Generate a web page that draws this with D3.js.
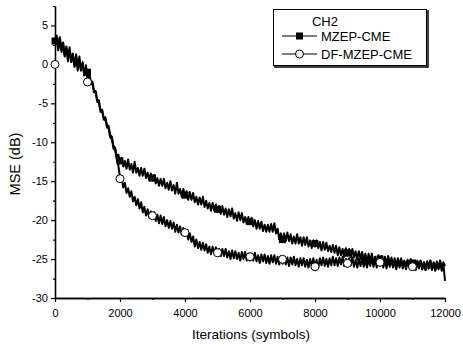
<!DOCTYPE html>
<html>
<head>
<meta charset="utf-8">
<script src="https://cdn.jsdelivr.net/npm/d3@7"></script>
<style>
  body { margin: 0; background: #fff; }
  svg text { font-family: Arial, "Liberation Sans", sans-serif; fill: #000; }
</style>
</head>
<body>
<div id="chart"></div>
<script>
// iterations between two line samples
var step = 50;

// MZEP-CME curve (dB), one value every 50 iterations, 0..12000
var mzepLine = [
  3.1, 3.7, 2.1, 3.5, 1.9, 2.8, 1.0, 2.3, 1.0, 2.2,
  0.3, 1.4, -0.3, 1.3, -0.4, 1.0, -0.7, 0.1, -1.4, -0.1,
  -1.5, -0.9, -2.3, -2.2, -3.4, -3.4, -4.6, -4.6, -5.9, -5.8,
  -6.9, -6.8, -7.8, -7.9, -9.1, -9.3, -10.5, -10.7, -11.8, -11.6,
  -12.6, -12.0, -13.1, -12.4, -13.4, -12.2, -13.5, -12.8, -13.9, -12.5,
  -13.9, -13.3, -14.3, -13.3, -14.3, -13.4, -14.6, -13.9, -14.9, -14.0,
  -14.9, -14.2, -15.3, -14.6, -15.6, -14.7, -15.6, -14.7, -15.9, -15.2,
  -16.1, -15.0, -16.2, -15.5, -16.6, -15.2, -16.6, -16.0, -17.0, -16.0,
  -17.0, -16.3, -17.4, -16.4, -17.4, -16.5, -17.7, -17.0, -18.0, -17.1,
  -18.0, -17.0, -18.3, -17.5, -18.5, -17.8, -18.8, -17.8, -18.8, -18.0,
  -19.0, -18.2, -19.2, -18.2, -19.3, -18.5, -19.6, -18.6, -19.5, -18.5,
  -19.8, -19.1, -20.1, -19.0, -20.0, -19.1, -20.3, -19.6, -20.5, -19.6,
  -20.5, -19.7, -20.8, -20.0, -21.1, -20.1, -21.1, -20.2, -21.4, -20.6,
  -21.5, -20.6, -21.5, -20.5, -21.5, -20.4, -21.7, -21.1, -22.5, -21.7,
  -22.6, -21.7, -22.7, -21.6, -22.7, -21.8, -23.0, -22.1, -23.0, -21.8,
  -23.0, -22.2, -23.3, -22.2, -23.2, -22.2, -23.4, -22.6, -23.6, -22.6,
  -23.4, -22.6, -23.6, -22.8, -23.9, -22.8, -23.8, -22.9, -24.0, -23.3,
  -24.1, -23.2, -24.2, -23.3, -24.5, -23.5, -24.5, -23.7, -24.7, -23.6,
  -24.6, -23.7, -24.8, -23.7, -24.8, -24.0, -25.1, -24.0, -25.0, -24.1,
  -25.2, -24.3, -25.4, -24.3, -25.3, -24.3, -25.4, -24.7, -25.6, -24.5,
  -25.4, -24.6, -25.7, -24.7, -25.7, -24.6, -25.6, -24.8, -25.9, -24.9,
  -25.9, -24.9, -25.8, -24.9, -26.0, -25.2, -26.1, -25.1, -26.0, -25.0,
  -26.1, -25.3, -26.3, -25.2, -26.1, -25.2, -26.3, -25.4, -26.4, -25.3,
  -26.2, -25.2, -26.4, -25.5, -26.5, -25.4, -26.3, -25.2, -26.5, -25.6,
  -27.8
];

// DF-MZEP-CME curve (dB), same sampling
var dfLine = [
  2.6, 3.3, 1.8, 3.2, 1.6, 2.7, 1.1, 2.0, 0.4, 1.9,
  0.4, 1.3, -0.3, 1.0, -0.8, 0.5, -0.8, 0.3, -1.4, -0.5,
  -1.8, -1.2, -2.5, -2.4, -3.6, -3.6, -4.8, -4.9, -6.1, -6.0,
  -7.1, -7.1, -8.1, -8.2, -9.4, -9.6, -10.8, -11.0, -12.2, -13.0,
  -14.5, -14.5, -15.8, -15.2, -16.5, -15.9, -17.0, -16.3, -17.6, -17.0,
  -18.1, -17.3, -18.5, -17.7, -19.0, -18.3, -19.4, -18.6, -19.7, -18.9,
  -19.8, -19.0, -20.1, -19.3, -20.4, -19.4, -20.5, -19.6, -20.8, -20.0,
  -21.0, -20.1, -21.1, -20.3, -21.5, -20.6, -21.6, -20.8, -21.9, -21.0,
  -22.0, -21.4, -22.5, -21.7, -22.8, -22.1, -23.4, -22.5, -23.6, -22.8,
  -23.8, -22.9, -23.9, -23.1, -24.2, -23.4, -24.4, -23.4, -24.3, -23.5,
  -24.5, -23.7, -24.6, -23.7, -24.6, -23.7, -24.8, -24.0, -25.0, -23.9,
  -24.9, -24.0, -25.0, -24.2, -25.2, -24.1, -25.0, -24.1, -25.2, -24.3,
  -25.2, -24.3, -25.2, -24.2, -25.3, -24.5, -25.5, -24.4, -25.3, -24.4,
  -25.5, -24.6, -25.6, -24.5, -25.4, -24.5, -25.6, -24.7, -25.7, -24.6,
  -25.6, -24.7, -25.7, -24.8, -25.9, -24.8, -25.7, -24.7, -25.8, -25.0,
  -26.0, -24.9, -25.8, -24.9, -26.0, -25.1, -26.1, -25.0, -25.9, -24.9,
  -26.0, -25.1, -26.1, -24.9, -25.8, -24.8, -25.9, -25.0, -26.0, -24.9,
  -25.8, -24.7, -25.8, -24.9, -25.9, -24.8, -25.7, -24.7, -25.9, -25.0,
  -26.0, -24.9, -25.8, -24.8, -26.0, -25.1, -26.1, -25.0, -25.9, -24.9,
  -26.0, -25.1, -26.1, -25.0, -25.9, -24.9, -26.0, -25.1, -26.1, -25.0,
  -25.9, -25.0, -26.1, -25.2, -26.2, -25.1, -26.0, -25.0, -26.1, -25.2,
  -26.3, -25.2, -26.1, -25.1, -26.2, -25.3, -26.3, -25.2, -26.1, -25.1,
  -26.3, -25.4, -26.4, -25.3, -26.2, -25.2, -26.3, -25.4, -26.4, -25.3,
  -26.2, -25.2, -26.3, -25.4, -26.4, -25.3, -26.2, -25.2, -26.3, -25.4,
  -25.9
];

// symbols, one every 1000 iterations
var markIters = [0, 1000, 2000, 3000, 4000, 5000, 6000, 7000, 8000, 9000, 10000, 11000];
var mzepMarks = [3.0, -1.0, -12.4, -14.6, -16.8, -18.6, -20.2, -22.5, -23.0, -24.2, -25.0, -25.5];
var dfMarks = [0.0, -2.26, -14.68, -19.43, -21.6, -24.2, -24.7, -25.03, -25.98, -25.55, -25.42, -25.98];

var xTicks = [0, 2000, 4000, 6000, 8000, 10000, 12000];
var xMinor = [1000, 3000, 5000, 7000, 9000, 11000];
var yTicks = [-30, -25, -20, -15, -10, -5, 0, 5];
var yMinor = [-27.5, -22.5, -17.5, -12.5, -7.5, -2.5, 2.5, 7.5];

var seriesNames = ["MZEP-CME", "DF-MZEP-CME"];
var legendTitle = "CH2";

var W = 463, H = 346;
var svg = d3.select("#chart").append("svg")
  .attr("width", W).attr("height", H);

var x = d3.scaleLinear().domain([0, 12000]).range([55, 445]);
var y = d3.scaleLinear().domain([-30, 7.5]).range([298, 6]);

// plain hyphen for negative numbers, like the original
var fmt = function(d) { return String(d); };

// axes (left + bottom only)
var xAxis = svg.append("g")
  .attr("transform", "translate(0,298)")
  .call(d3.axisBottom(x).tickValues(xTicks).tickFormat(fmt).tickSize(4).tickSizeOuter(0));
svg.append("g")
  .attr("transform", "translate(0,298)")
  .call(d3.axisBottom(x).tickValues(xMinor).tickFormat("").tickSize(2).tickSizeOuter(0));
var yAxis = svg.append("g")
  .attr("transform", "translate(55,0)")
  .call(d3.axisLeft(y).tickValues(yTicks).tickFormat(fmt).tickSize(4).tickSizeOuter(0));
svg.append("g")
  .attr("transform", "translate(55,0)")
  .call(d3.axisLeft(y).tickValues(yMinor).tickFormat("").tickSize(2).tickSizeOuter(0));

svg.selectAll(".domain").attr("stroke", "#000").attr("stroke-width", 1.3);
svg.selectAll(".tick line").attr("stroke", "#000").attr("stroke-width", 1.2);
svg.selectAll(".tick text").style("font-size", "11px")
  .style("font-family", "Arial, 'Liberation Sans', sans-serif");
xAxis.selectAll(".tick text").attr("dy", "1.05em");
yAxis.selectAll(".tick text").attr("x", -7);

// axis titles
svg.append("text")
  .attr("x", 251).attr("y", 339)
  .attr("text-anchor", "middle")
  .style("font-size", "13.5px")
  .text("Iterations (symbols)");
svg.append("text")
  .attr("transform", "translate(20,164) rotate(-90)")
  .attr("text-anchor", "middle")
  .style("font-size", "14.5px")
  .text("MSE (dB)");

// lines
var line = d3.line()
  .x(function(d, i) { return x(i * step); })
  .y(function(d) { return y(d); });

svg.append("path").datum(mzepLine)
  .attr("fill", "none").attr("stroke", "#000")
  .attr("stroke-width", 2).attr("stroke-linejoin", "round")
  .attr("d", line);
svg.append("path").datum(dfLine)
  .attr("fill", "none").attr("stroke", "#000")
  .attr("stroke-width", 2).attr("stroke-linejoin", "round")
  .attr("d", line);

// symbols
svg.selectAll("rect.mz").data(mzepMarks).enter().append("rect")
  .attr("class", "mz")
  .attr("x", function(d, i) { return x(markIters[i]) - 3.5; })
  .attr("y", function(d) { return y(d) - 3.5; })
  .attr("width", 7).attr("height", 7)
  .attr("fill", "#000");
svg.selectAll("circle.df").data(dfMarks).enter().append("circle")
  .attr("class", "df")
  .attr("cx", function(d, i) { return x(markIters[i]); })
  .attr("cy", function(d) { return y(d); })
  .attr("r", 4)
  .attr("fill", "#fff").attr("stroke", "#000").attr("stroke-width", 1);

// legend
var lg = svg.append("g");
lg.append("path").attr("d", "M428,10 V67 H274")
  .attr("fill", "none").attr("stroke", "#000").attr("stroke-width", 1.5);
lg.append("rect").attr("x", 273.5).attr("y", 9.5).attr("width", 153).attr("height", 56)
  .attr("fill", "#fff").attr("stroke", "#000").attr("stroke-width", 1);
lg.append("text").attr("x", 325).attr("y", 26)
  .attr("text-anchor", "middle").style("font-size", "13px").text(legendTitle);

var rows = [36, 54];
seriesNames.forEach(function(name, i) {
  lg.append("line").attr("x1", 282).attr("x2", 317)
    .attr("y1", rows[i]).attr("y2", rows[i])
    .attr("stroke", "#000").attr("stroke-width", 1.2);
  if (i === 0) {
    lg.append("rect").attr("x", 296).attr("y", rows[i] - 3.5)
      .attr("width", 7).attr("height", 7).attr("fill", "#000");
  } else {
    lg.append("circle").attr("cx", 299.5).attr("cy", rows[i]).attr("r", 4)
      .attr("fill", "#fff").attr("stroke", "#000").attr("stroke-width", 1);
  }
  lg.append("text").attr("x", 321).attr("y", rows[i] + 4.5)
    .style("font-size", "13px").text(name);
});
</script>
</body>
</html>
